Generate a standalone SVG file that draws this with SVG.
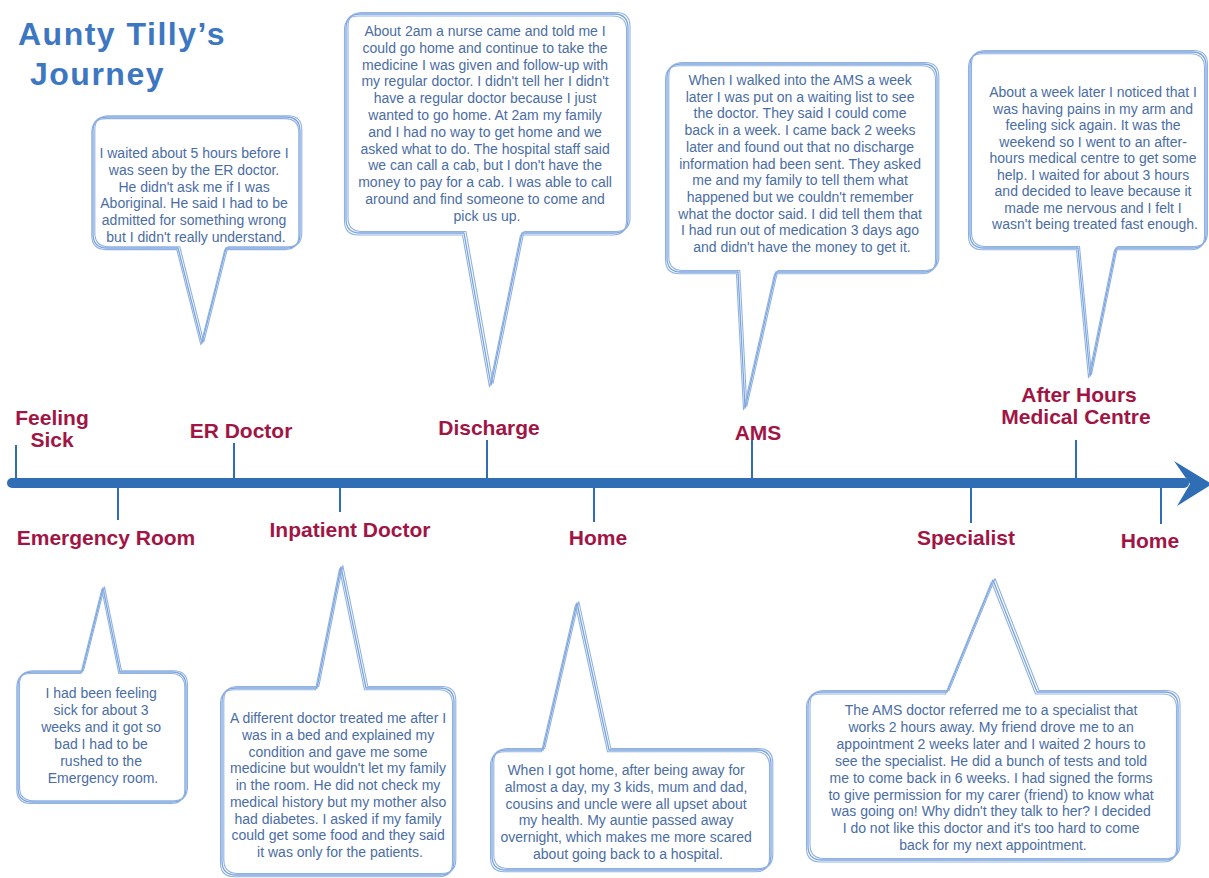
<svg xmlns="http://www.w3.org/2000/svg" xmlns:xlink="http://www.w3.org/1999/xlink" width="1209" height="878" viewBox="0 0 1209 878">
  <style>
    .title { font-family: "Liberation Sans", Arial, sans-serif; font-weight: bold; font-size: 32px; fill: #3d77c2; letter-spacing: 1.5px; }
    .label { font-family: "Liberation Sans", Arial, sans-serif; font-weight: bold; font-size: 21px; fill: #a11545; text-anchor: middle; }
    .story { font-family: "Liberation Sans", Arial, sans-serif; font-size: 14px; fill: #4a6da5; text-anchor: middle; }
    .sk { fill: none; stroke: #7ba3dc; stroke-width: 1.3; stroke-linejoin: round; }
    .sk2 { fill: none; stroke: #8fb2e3; stroke-width: 1.1; stroke-linejoin: round; }
    .fillw { fill: #ffffff; stroke: none; }
    .tick { stroke: #2f6db5; stroke-width: 2; }
  </style>
  <defs>
    <!-- speech bubble outlines: rounded box plus pointer tail -->
    <path id="b1" d="M107,117 H286 Q300,117 300,131 V234 Q300,248 286,248 H226 L202,343 L178,248 H107 Q93,248 93,234 V131 Q93,117 107,117 Z"/>
    <path id="b2" d="M360,14 H614 Q628,14 628,28 V219 Q628,233 614,233 H522 L491,385 L464,233 H360 Q346,233 346,219 V28 Q346,14 360,14 Z"/>
    <path id="b3" d="M681,64 H923 Q937,64 937,78 V258 Q937,272 923,272 H776 L745,408 L738,272 H681 Q667,272 667,258 V78 Q667,64 681,64 Z"/>
    <path id="b4" d="M984,52 H1192 Q1206,52 1206,66 V234 Q1206,248 1192,248 H1116 L1090,376 L1078,248 H984 Q970,248 970,234 V66 Q970,52 984,52 Z"/>
    <path id="b5" d="M32,672 H82 L103,588 L120,672 H172 Q186,672 186,686 V788 Q186,802 172,802 H32 Q18,802 18,788 V686 Q18,672 32,672 Z"/>
    <path id="b6" d="M236,688 H317 L341,567 L366,688 H440 Q454,688 454,702 V861 Q454,875 440,875 H236 Q222,875 222,861 V702 Q222,688 236,688 Z"/>
    <path id="b7" d="M506,750 H543 L577,603 L609,750 H757 Q771,750 771,764 V856 Q771,870 757,870 H506 Q492,870 492,856 V764 Q492,750 506,750 Z"/>
    <path id="b8" d="M822,692 H947 L993,580 L1037,692 H1164 Q1178,692 1178,706 V846 Q1178,860 1164,860 H822 Q808,860 808,846 V706 Q808,692 822,692 Z"/>
  </defs>

  <rect width="1209" height="878" fill="#ffffff"/>

  <g id="title">
    <text class="title" x="18" y="45">Aunty Tilly’s</text>
    <text class="title" x="30" y="85">Journey</text>
  </g>

  <!-- timeline axis and the tick marks tying each stop to it -->
  <g id="connectors">
    <line x1="12" y1="483" x2="1184" y2="483" stroke="#2f6db5" stroke-width="10" stroke-linecap="round"/>
    <polygon points="1174,461 1212,484 1177,506 1190,484" fill="#2f6db5"/>
    <line class="tick" x1="16" y1="445" x2="16" y2="483"/>
    <line class="tick" x1="234" y1="443" x2="234" y2="483"/>
    <line class="tick" x1="487" y1="440" x2="487" y2="483"/>
    <line class="tick" x1="752" y1="440" x2="752" y2="483"/>
    <line class="tick" x1="1076" y1="440" x2="1076" y2="483"/>
    <line class="tick" x1="118" y1="483" x2="118" y2="520"/>
    <line class="tick" x1="340" y1="483" x2="340" y2="512"/>
    <line class="tick" x1="594" y1="483" x2="594" y2="522"/>
    <line class="tick" x1="971" y1="483" x2="971" y2="523"/>
    <line class="tick" x1="1161" y1="483" x2="1161" y2="524"/>
  </g>

  <g id="stop-feeling-sick">
    <text class="label" x="52" y="425">Feeling</text>
    <text class="label" x="52" y="447">Sick</text>
  </g>
  <g id="stop-er-doctor"><text class="label" x="241" y="438">ER Doctor</text></g>
  <g id="stop-discharge"><text class="label" x="489" y="435">Discharge</text></g>
  <g id="stop-ams"><text class="label" x="758" y="440">AMS</text></g>
  <g id="stop-after-hours">
    <text class="label" x="1079" y="402">After Hours</text>
    <text class="label" x="1076" y="424">Medical Centre</text>
  </g>
  <g id="stop-emergency-room"><text class="label" x="106" y="545">Emergency Room</text></g>
  <g id="stop-inpatient-doctor"><text class="label" x="350" y="537">Inpatient Doctor</text></g>
  <g id="stop-home-1"><text class="label" x="598" y="545">Home</text></g>
  <g id="stop-specialist"><text class="label" x="966" y="545">Specialist</text></g>
  <g id="stop-home-2"><text class="label" x="1150" y="548">Home</text></g>

  <g id="bubble-er-doctor">
    <use xlink:href="#b1" class="fillw"/>
    <use xlink:href="#b1" class="sk"/>
    <use xlink:href="#b1" class="sk2" transform="translate(1.8,-1.2)"/>
    <use xlink:href="#b1" class="sk2" transform="translate(-1.2,1.6)"/>
    <text class="story" y="158">
      <tspan x="196">I waited about 5 hours before I</tspan>
      <tspan x="196" dy="16.8">was seen by the ER doctor.</tspan>
      <tspan x="196" dy="16.8">He didn't ask me if I was</tspan>
      <tspan x="196" dy="16.8">Aboriginal. He said I had to be</tspan>
      <tspan x="196" dy="16.8">admitted for something wrong</tspan>
      <tspan x="196" dy="16.8">but I didn't really understand.</tspan>
    </text>
  </g>

  <g id="bubble-discharge">
    <use xlink:href="#b2" class="fillw"/>
    <use xlink:href="#b2" class="sk"/>
    <use xlink:href="#b2" class="sk2" transform="translate(2,-1.5)"/>
    <use xlink:href="#b2" class="sk2" transform="translate(-1.5,2)"/>
    <text class="story" y="36">
      <tspan x="487">About 2am a nurse came and told me I</tspan>
      <tspan x="487" dy="16.8">could go home and continue to take the</tspan>
      <tspan x="487" dy="16.8">medicine I was given and follow-up with</tspan>
      <tspan x="487" dy="16.8">my regular doctor.  I didn't tell her  I didn't</tspan>
      <tspan x="487" dy="16.8">have a regular doctor because I just</tspan>
      <tspan x="487" dy="16.8">wanted to go home.   At 2am my family</tspan>
      <tspan x="487" dy="16.8">and I had no way to get home and we</tspan>
      <tspan x="487" dy="16.8">asked what to do.  The hospital staff said</tspan>
      <tspan x="487" dy="16.8">we can call a cab, but I don't have the</tspan>
      <tspan x="487" dy="16.8">money to pay for a cab.  I was able to call</tspan>
      <tspan x="487" dy="16.8">around and find someone to come and</tspan>
      <tspan x="487" dy="16.8">pick us up.</tspan>
    </text>
  </g>

  <g id="bubble-ams">
    <use xlink:href="#b3" class="fillw"/>
    <use xlink:href="#b3" class="sk"/>
    <use xlink:href="#b3" class="sk2" transform="translate(1.8,-1.5)"/>
    <use xlink:href="#b3" class="sk2" transform="translate(-1.5,1.8)"/>
    <text class="story" y="85">
      <tspan x="802">When I walked into the AMS a week</tspan>
      <tspan x="802" dy="16.7">later I was put on a waiting list to see</tspan>
      <tspan x="802" dy="16.7">the doctor.  They said I could come</tspan>
      <tspan x="802" dy="16.7">back in a week.  I came back 2 weeks</tspan>
      <tspan x="802" dy="16.7">later and found out that no discharge</tspan>
      <tspan x="802" dy="16.7">information had been sent.  They asked</tspan>
      <tspan x="802" dy="16.7">me and my family to tell them what</tspan>
      <tspan x="802" dy="16.7">happened  but  we couldn't remember</tspan>
      <tspan x="802" dy="16.7">what the doctor said.  I did tell them that</tspan>
      <tspan x="802" dy="16.7">I had run out of medication 3 days ago</tspan>
      <tspan x="802" dy="16.7">and didn't have the money to get  it.</tspan>
    </text>
  </g>

  <g id="bubble-after-hours">
    <use xlink:href="#b4" class="fillw"/>
    <use xlink:href="#b4" class="sk"/>
    <use xlink:href="#b4" class="sk2" transform="translate(1.5,-1.5)"/>
    <use xlink:href="#b4" class="sk2" transform="translate(-1.5,1.8)"/>
    <text class="story" y="97">
      <tspan x="1095">About a week later I noticed that I</tspan>
      <tspan x="1095" dy="16.5">was having pains in my arm and</tspan>
      <tspan x="1095" dy="16.5">feeling sick again.  It was the</tspan>
      <tspan x="1095" dy="16.5">weekend so I went to an after-</tspan>
      <tspan x="1095" dy="16.5">hours medical centre to get some</tspan>
      <tspan x="1095" dy="16.5">help.  I waited for about 3 hours</tspan>
      <tspan x="1095" dy="16.5">and decided to leave because it</tspan>
      <tspan x="1095" dy="16.5">made me nervous and I felt I</tspan>
      <tspan x="1095" dy="16.5">wasn't being treated fast enough.</tspan>
    </text>
  </g>

  <g id="bubble-emergency-room">
    <use xlink:href="#b5" class="fillw"/>
    <use xlink:href="#b5" class="sk"/>
    <use xlink:href="#b5" class="sk2" transform="translate(1.5,-1.2)"/>
    <use xlink:href="#b5" class="sk2" transform="translate(-1.2,1.5)"/>
    <text class="story" y="698">
      <tspan x="103">I had been feeling</tspan>
      <tspan x="103" dy="17">sick for about 3</tspan>
      <tspan x="103" dy="17">weeks and it got so</tspan>
      <tspan x="103" dy="17">bad I had to be</tspan>
      <tspan x="103" dy="17">rushed to the</tspan>
      <tspan x="103" dy="17">Emergency room.</tspan>
    </text>
  </g>

  <g id="bubble-inpatient-doctor">
    <use xlink:href="#b6" class="fillw"/>
    <use xlink:href="#b6" class="sk"/>
    <use xlink:href="#b6" class="sk2" transform="translate(1.8,-1.5)"/>
    <use xlink:href="#b6" class="sk2" transform="translate(-1.5,1.8)"/>
    <text class="story" y="723">
      <tspan x="340">A different  doctor treated me after I</tspan>
      <tspan x="340" dy="16.75">was in a bed and explained my</tspan>
      <tspan x="340" dy="16.75">condition and gave me some</tspan>
      <tspan x="340" dy="16.75">medicine but wouldn't let my family</tspan>
      <tspan x="340" dy="16.75">in the room.  He did not check my</tspan>
      <tspan x="340" dy="16.75">medical history but my mother also</tspan>
      <tspan x="340" dy="16.75">had diabetes. I asked if my family</tspan>
      <tspan x="340" dy="16.75">could get some food and they said</tspan>
      <tspan x="340" dy="16.75">it was only for the patients.</tspan>
    </text>
  </g>

  <g id="bubble-home">
    <use xlink:href="#b7" class="fillw"/>
    <use xlink:href="#b7" class="sk"/>
    <use xlink:href="#b7" class="sk2" transform="translate(1.8,-1.5)"/>
    <use xlink:href="#b7" class="sk2" transform="translate(-1.5,1.8)"/>
    <text class="story" y="775">
      <tspan x="628">When I got home, after being away for</tspan>
      <tspan x="628" dy="16.8">almost a day, my 3 kids, mum and dad,</tspan>
      <tspan x="628" dy="16.8">cousins and uncle were all upset about</tspan>
      <tspan x="628" dy="16.8">my health. My auntie passed away</tspan>
      <tspan x="628" dy="16.8">overnight, which makes me more scared</tspan>
      <tspan x="628" dy="16.8">about going back to a hospital.</tspan>
    </text>
  </g>

  <g id="bubble-specialist">
    <use xlink:href="#b8" class="fillw"/>
    <use xlink:href="#b8" class="sk"/>
    <use xlink:href="#b8" class="sk2" transform="translate(2,-1.5)"/>
    <use xlink:href="#b8" class="sk2" transform="translate(-1.5,2)"/>
    <text class="story" y="715">
      <tspan x="993">The AMS doctor referred me to a specialist that</tspan>
      <tspan x="993" dy="16.9">works 2 hours away.  My friend drove me to an</tspan>
      <tspan x="993" dy="16.9">appointment 2 weeks later and I waited 2 hours to</tspan>
      <tspan x="993" dy="16.9">see the specialist.  He did a bunch of tests and told</tspan>
      <tspan x="993" dy="16.9">me to come back in 6 weeks. I had signed the forms</tspan>
      <tspan x="993" dy="16.9">to give permission for my carer (friend) to know what</tspan>
      <tspan x="993" dy="16.9">was going on! Why didn't they talk to her?  I decided</tspan>
      <tspan x="993" dy="16.9">I do not like this doctor and it's too hard to come</tspan>
      <tspan x="993" dy="16.9">back for my next appointment.</tspan>
    </text>
  </g>
</svg>
